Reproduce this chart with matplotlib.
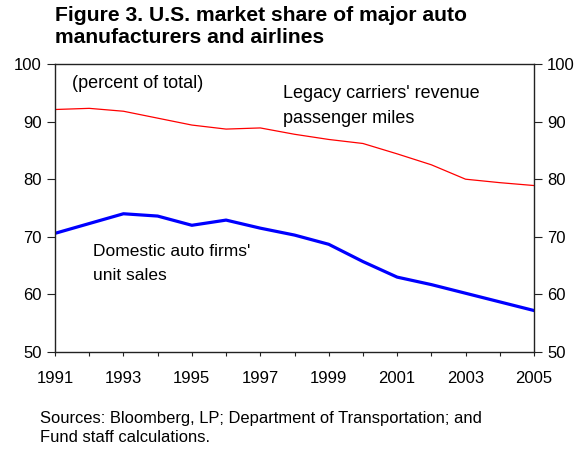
import matplotlib
matplotlib.use("Agg")
import matplotlib.pyplot as plt

plt.rcParams['font.family'] = ['Liberation Sans', 'DejaVu Sans']

years = list(range(1991, 2006))
legacy_carriers = [92.1, 92.3, 91.8, 90.6, 89.4, 88.7, 88.9, 87.8, 86.9, 86.2, 84.4, 82.5, 80.0, 79.4, 78.9]
domestic_auto = [70.6, 72.3, 74.0, 73.6, 72.0, 72.9, 71.5, 70.3, 68.7, 65.7, 63.0, 61.7, 60.2, 58.7, 57.2]
ytick_vals = [50, 60, 70, 80, 90, 100]

fig = plt.figure(figsize=(5.87, 4.51), dpi=100)
ax = fig.add_axes([55/587, 1-352/451, (534-55)/587, (352-64)/451])

ax.plot(years, legacy_carriers, color='#ff0000', lw=0.9)
ax.plot(years, domestic_auto, color='#0000ff', lw=2.3)

ax.set_xlim(1991, 2005)
ax.set_ylim(50, 100)
ax.set_xticks(years)
ax.set_xticklabels([str(y) if (y - 1991) % 2 == 0 else '' for y in years])
ax.set_yticks(ytick_vals)

for s in ax.spines.values():
    s.set_color('#222222')
    s.set_linewidth(1.0)

ax.tick_params(axis='x', direction='out', length=3, pad=10.5, labelsize=12, color='#222222')
ax.tick_params(axis='y', direction='out', length=5.5, pad=4, labelsize=12, color='#222222',
               left=True, right=True, labelleft=True, labelright=True)

fig.text(55/587, 1-21/451, "Figure 3. U.S. market share of major auto",
         fontsize=15.2, fontweight='bold', ha='left', va='baseline')
fig.text(55/587, 1-43/451, "manufacturers and airlines",
         fontsize=15.2, fontweight='bold', ha='left', va='baseline')

fig.text(72/587, 1-83/451, "(percent of total)", fontsize=13, ha='left', va='center')
fig.text(283/587, 1-93/451, "Legacy carriers' revenue", fontsize=13, ha='left', va='center')
fig.text(283/587, 1-118/451, "passenger miles", fontsize=13, ha='left', va='center')
fig.text(93/587, 1-252/451, "Domestic auto firms'", fontsize=12.5, ha='left', va='center')
fig.text(93/587, 1-276/451, "unit sales", fontsize=12.5, ha='left', va='center')

fig.text(40/587, 1-418/451, "Sources: Bloomberg, LP; Department of Transportation; and", fontsize=11.9, ha='left', va='center')
fig.text(40/587, 1-438/451, "Fund staff calculations.", fontsize=11.9, ha='left', va='center')

fig.savefig("out.png", dpi=100)
